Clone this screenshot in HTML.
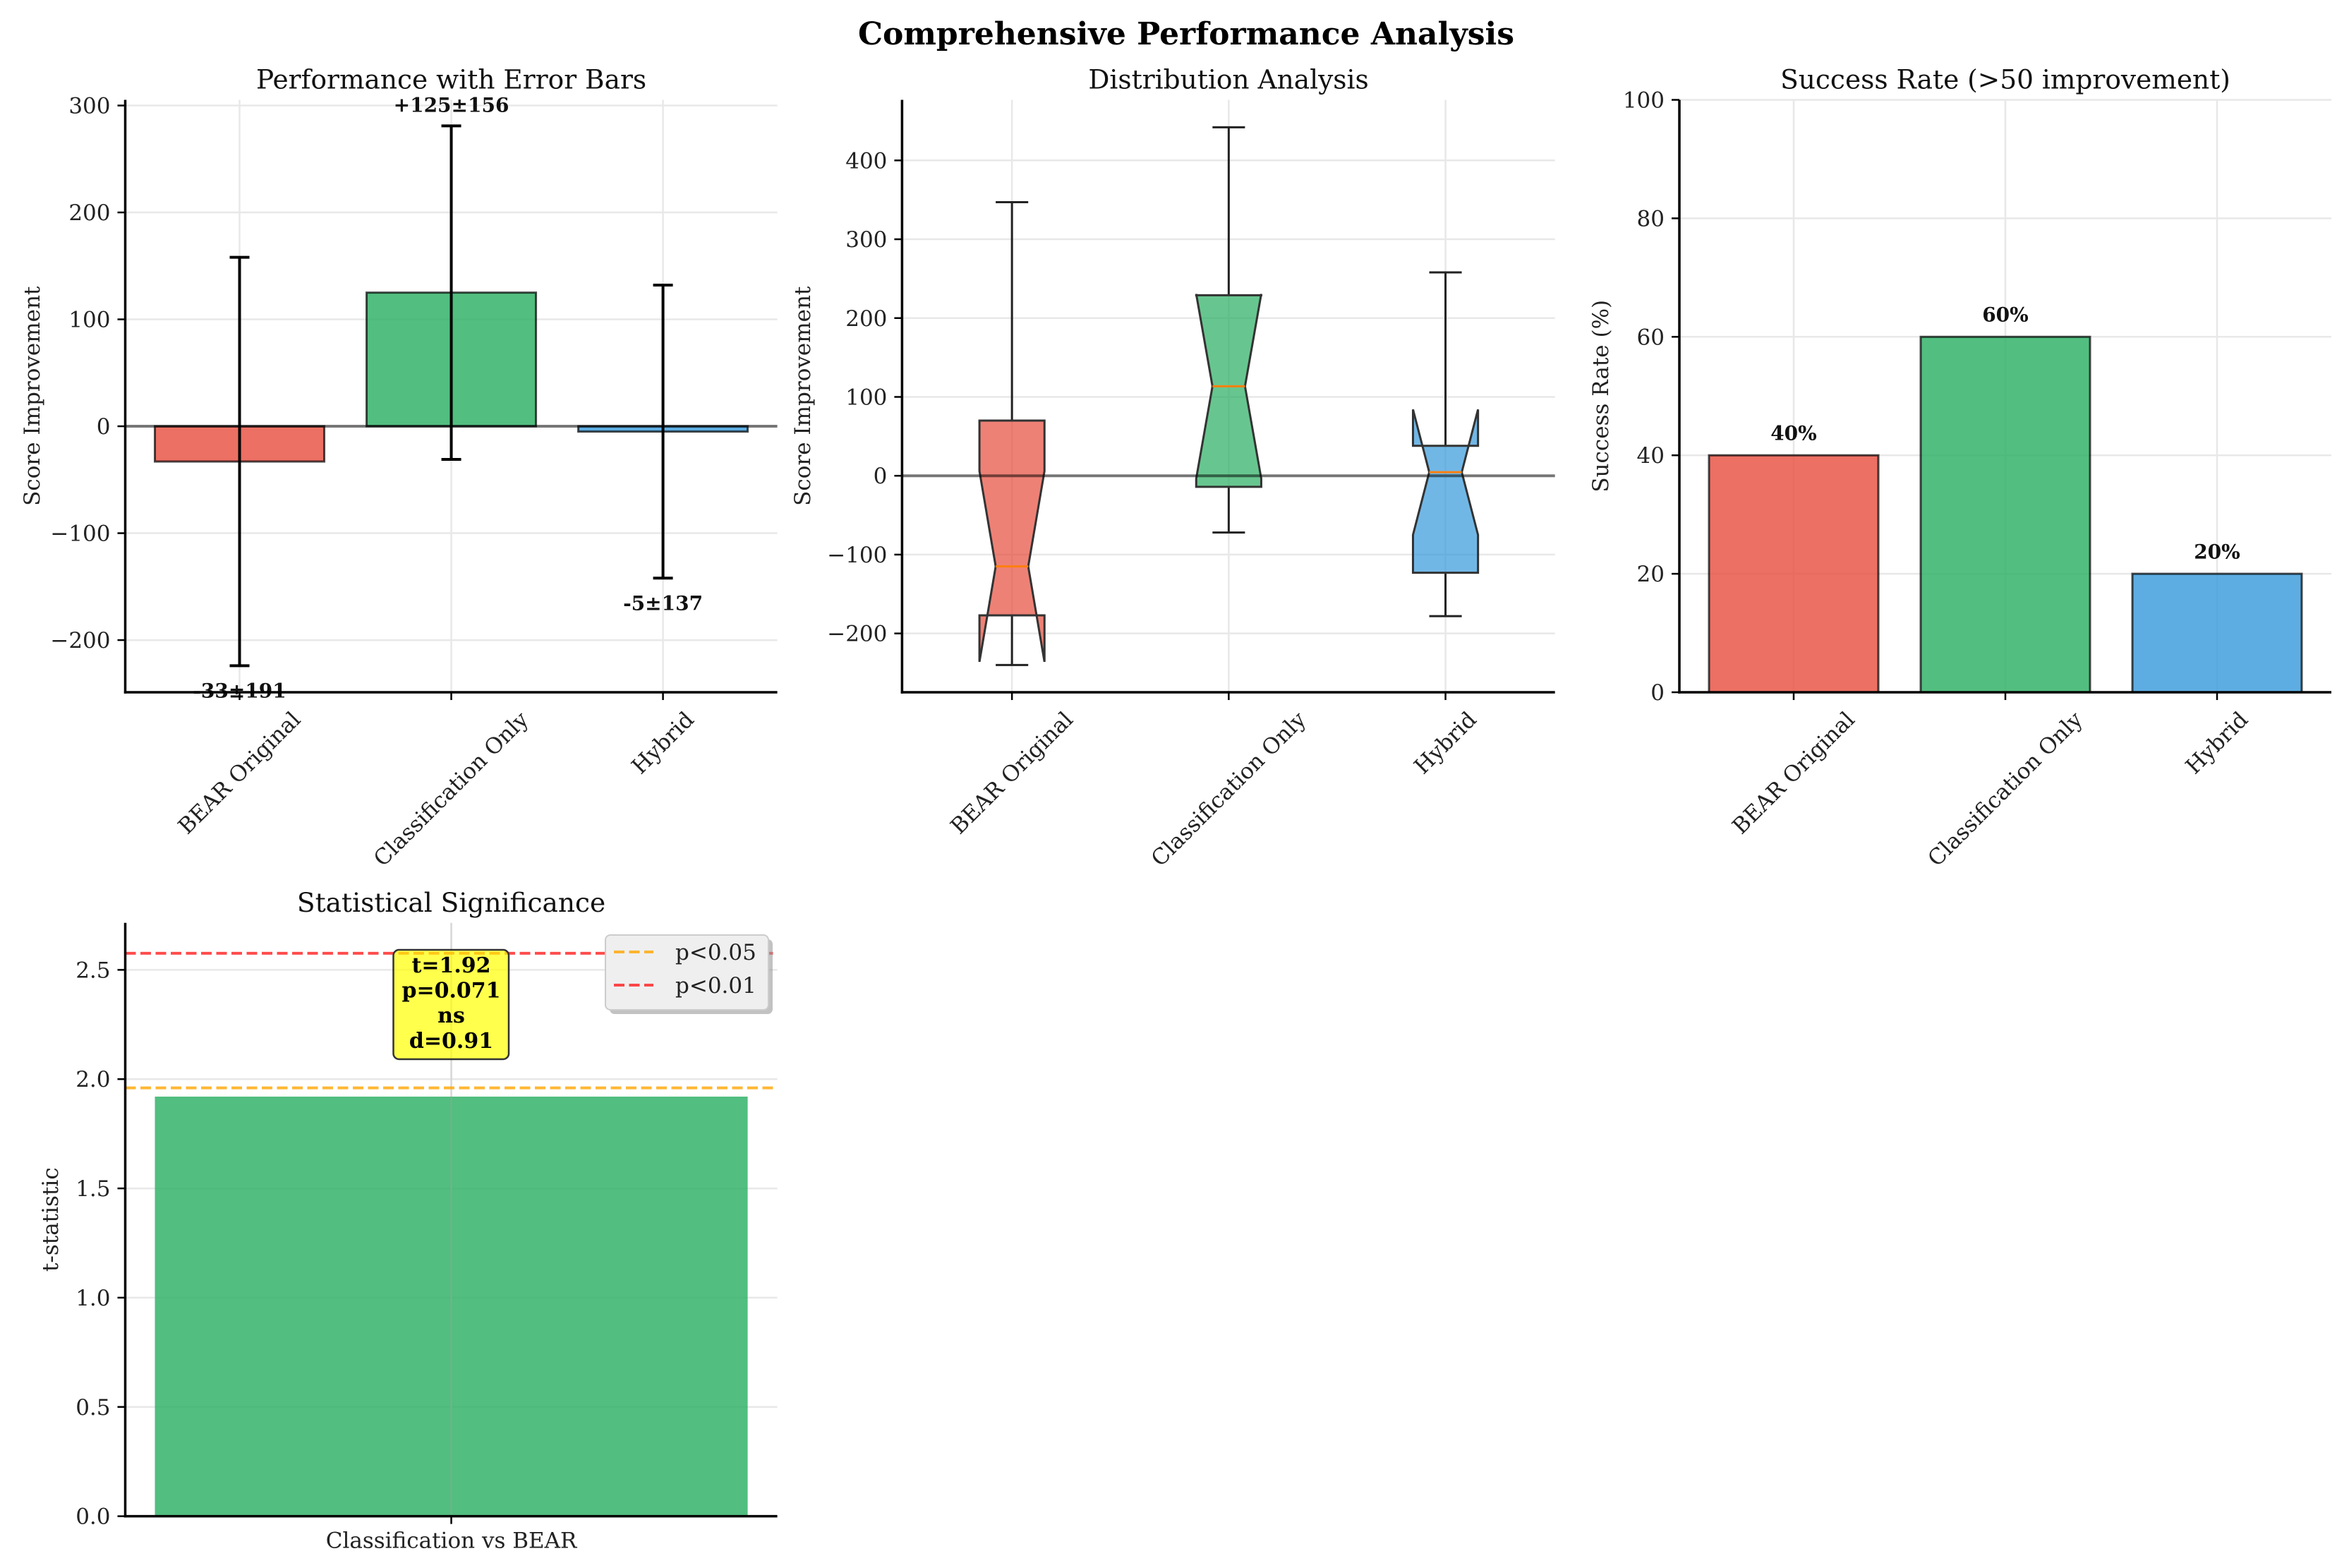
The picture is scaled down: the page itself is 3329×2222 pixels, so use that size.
<!DOCTYPE html>
<html><head><meta charset="utf-8">
<style>
html,body{margin:0;padding:0;background:#fff;}
svg{display:block;font-family:"DejaVu Serif","Liberation Serif",serif;}
</style></head>
<body>
<svg id="fig" width="3329" height="2222" viewBox="0 0 3329 2222" xmlns="http://www.w3.org/2000/svg">
<rect x="0" y="0" width="3329" height="2222" fill="#ffffff"/>
<text x="1681" y="63" text-anchor="middle" font-size="44" font-weight="bold" fill="#000">Comprehensive Performance Analysis</text>
</svg>
<script>
const categories = ['BEAR Original','Classification Only','Hybrid'];
const means = [-33, 125, -5];
const stds = [191, 156, 137];
const meanLabels = ['-33±191', '+125±156', '-5±137'];
const boxQ1 = [-177, -14, -123];
const boxQ3 = [70, 229, 38];
const boxMed = [-115, 113.5, 4.6];
const whiskLo = [-240, -72, -178];
const whiskHi = [347, 442, 258];
const notchHalf = [121, 117, 79.5];
const successRates = [40, 60, 20];
const successLabels = ['40%', '60%', '20%'];
const tCategories = ['Classification vs BEAR'];
const tValues = [1.92];
const p05 = 1.96;
const p01 = 2.576;
const ticks1 = [-200, -100, 0, 100, 200, 300];
const ticks2 = [-200, -100, 0, 100, 200, 300, 400];
const ticks3 = [0, 20, 40, 60, 80, 100];
const ticks4 = [0, 0.5, 1.0, 1.5, 2.0, 2.5];
const annotLines = ['t=1.92', 'p=0.071', 'ns', 'd=0.91'];

const NS = 'http://www.w3.org/2000/svg';
const fig = document.getElementById('fig');
const colors = ['#e74c3c', '#27ae60', '#3498db'];

function mk(tag, attrs, parent) {
  const e = document.createElementNS(NS, tag);
  for (const k in attrs) e.setAttribute(k, attrs[k]);
  (parent || fig).appendChild(e);
  return e;
}
function fmtTick(v, dec) {
  let s = dec ? v.toFixed(dec) : String(v);
  return s.replace('-', '\u2212');
}
function makeAxes(cfg) {
  const ax = {
    cfg: cfg,
    sx: v => cfg.x0 + (v - cfg.xmin) / (cfg.xmax - cfg.xmin) * (cfg.x1 - cfg.x0),
    sy: v => cfg.y1 - (v - cfg.ymin) / (cfg.ymax - cfg.ymin) * (cfg.y1 - cfg.y0)
  };
  const g = mk('g', {});
  
  
  ax.g = g;
  // grid
  cfg.yticks.forEach(t => {
    const l = mk('line', {x1: cfg.x0, x2: cfg.x1, y1: ax.sy(t), y2: ax.sy(t), stroke: '#e8e8e8', 'stroke-width': 2.5}, g);
    
    
  });
  cfg.xticks.forEach(t => {
    const l = mk('line', {x1: ax.sx(t), x2: ax.sx(t), y1: cfg.y0, y2: cfg.y1, stroke: '#e8e8e8', 'stroke-width': 2.5}, g);
    
    
  });
  return ax;
}
function finishAxes(ax) {
  const cfg = ax.cfg, g = ax.g;
  const sp1 = mk('line', {x1: cfg.x0, x2: cfg.x0, y1: cfg.y0, y2: cfg.y1 + 1.7, stroke: '#000', 'stroke-width': 3.5}, g);
  
  
  const sp2 = mk('line', {x1: cfg.x0 - 1.7, x2: cfg.x1, y1: cfg.y1, y2: cfg.y1, stroke: '#000', 'stroke-width': 3.5}, g);
  
  
  cfg.yticks.forEach(t => {
    const y = ax.sy(t);
    const tk = mk('line', {x1: cfg.x0 - 11, x2: cfg.x0, y1: y, y2: y, stroke: '#000', 'stroke-width': 2.5}, g);
    
    
    const tx = mk('text', {x: cfg.x0 - 21, y: y + 11, 'text-anchor': 'end', 'font-size': 31, fill: '#222'}, g);
    tx.textContent = fmtTick(t, cfg.ydec);
    
    
  });
  cfg.xticks.forEach((t, i) => {
    const x = ax.sx(t);
    const tk = mk('line', {x1: x, x2: x, y1: cfg.y1, y2: cfg.y1 + 11, stroke: '#000', 'stroke-width': 2.5}, g);
    
    
    const tx = mk('text', {'font-size': 31, fill: '#222'}, g);
    tx.textContent = cfg.xlabels[i];
    
    
    if (cfg.rotate) {
      const w = tx.getComputedTextLength();
      const h = 31 * 1.05;
      const cy = cfg.y1 + 22 + (w + h) * 0.7071 / 2;
      tx.setAttribute('x', x);
      tx.setAttribute('y', cy + 10);
      tx.setAttribute('text-anchor', 'middle');
      tx.setAttribute('transform', 'rotate(-45 ' + x + ' ' + cy + ')');
    } else {
      tx.setAttribute('x', x);
      tx.setAttribute('y', cfg.y1 + 45);
      tx.setAttribute('text-anchor', 'middle');
    }
  });
  const cx = (cfg.x0 + cfg.x1) / 2, cy = (cfg.y0 + cfg.y1) / 2;
  const yl = mk('text', {x: cfg.ylabelX, y: cy, 'text-anchor': 'middle', 'font-size': 31, fill: '#222', transform: 'rotate(-90 ' + cfg.ylabelX + ' ' + cy + ')'}, g);
  yl.textContent = cfg.ylabel;
  
  
  const tt = mk('text', {x: cx, y: cfg.y0 - 16, 'text-anchor': 'middle', 'font-size': 37.5, fill: '#111'}, g);
  tt.textContent = cfg.title;
  
  
}

// ---------- Panel 1: bars with error bars ----------
const ax1 = makeAxes({name: 'performance-panel', x0: 177.5, x1: 1101.6, y0: 141.5, y1: 981, xmin: -0.54, xmax: 2.54, ymin: -248.8, ymax: 305.3,
  yticks: ticks1, xticks: [0, 1, 2], xlabels: categories, rotate: true, ylabel: 'Score Improvement', ylabelX: 56, title: 'Performance with Error Bars'});
means.forEach((m, i) => {
  const xa = ax1.sx(i - 0.4), xb = ax1.sx(i + 0.4);
  const ya = ax1.sy(Math.max(m, 0)), yb = ax1.sy(Math.min(m, 0));
  const r = mk('rect', {x: xa, y: ya, width: xb - xa, height: Math.max(yb - ya, 0.5), fill: colors[i], 'fill-opacity': 0.8, stroke: 'rgba(0,0,0,0.7)', 'stroke-width': 3}, ax1.g);
  
  
});
const z1 = mk('line', {x1: ax1.cfg.x0, x2: ax1.cfg.x1, y1: ax1.sy(0), y2: ax1.sy(0), stroke: 'rgba(0,0,0,0.5)', 'stroke-width': 4}, ax1.g);


means.forEach((m, i) => {
  const x = ax1.sx(i), yt = ax1.sy(m + stds[i]), yb = ax1.sy(m - stds[i]);
  const e = mk('path', {d: `M${x},${yt}V${yb}M${x - 14},${yt}H${x + 14}M${x - 14},${yb}H${x + 14}`, stroke: '#000', 'stroke-width': 4, fill: 'none'}, ax1.g);
  
  
  const lbl = mk('text', {x: x, 'text-anchor': 'middle', 'font-size': 28, 'font-weight': 'bold', fill: '#111'}, ax1.g);
  if (m >= 0) lbl.setAttribute('y', ax1.sy(m + stds[i] + 13));
  else lbl.setAttribute('y', ax1.sy(m - stds[i] - 16) + 21);
  lbl.textContent = meanLabels[i];
  
  
});
finishAxes(ax1);

// ---------- Panel 2: notched box plot ----------
const ax2 = makeAxes({name: 'distribution-panel', x0: 1278.4, x1: 2203.7, y0: 141.5, y1: 981, xmin: 0.493, xmax: 3.505, ymin: -274.6, ymax: 476.8,
  yticks: ticks2, xticks: [1, 2, 3], xlabels: categories, rotate: true, ylabel: 'Score Improvement', ylabelX: 1148, title: 'Distribution Analysis'});
categories.forEach((c, i) => {
  const p = i + 1, w = 0.3;
  const L = ax2.sx(p - w / 2), R = ax2.sx(p + w / 2), cl = ax2.sx(p - w / 4), cr = ax2.sx(p + w / 4);
  const nLo = boxMed[i] - notchHalf[i], nHi = boxMed[i] + notchHalf[i];
  const ys = v => ax2.sy(v);
  const d = `M${L},${ys(boxQ1[i])}L${R},${ys(boxQ1[i])}L${R},${ys(nLo)}L${cr},${ys(boxMed[i])}L${R},${ys(nHi)}L${R},${ys(boxQ3[i])}L${L},${ys(boxQ3[i])}L${L},${ys(nHi)}L${cl},${ys(boxMed[i])}L${L},${ys(nLo)}Z`;
  const wk = mk('path', {d: `M${ax2.sx(p)},${ys(boxQ1[i])}V${ys(whiskLo[i])}M${cl},${ys(whiskLo[i])}H${cr}M${ax2.sx(p)},${ys(boxQ3[i])}V${ys(whiskHi[i])}M${cl},${ys(whiskHi[i])}H${cr}`, stroke: '#222', 'stroke-width': 3, fill: 'none'}, ax2.g);
  
  
  const b = mk('path', {d: d, fill: colors[i], 'fill-opacity': 0.7, stroke: '#333', 'stroke-width': 3, 'stroke-linejoin': 'miter'}, ax2.g);
  
  
  const md = mk('line', {x1: cl, x2: cr, y1: ys(boxMed[i]), y2: ys(boxMed[i]), stroke: '#ff7f0e', 'stroke-width': 3}, ax2.g);
  
  
});
const z2 = mk('line', {x1: ax2.cfg.x0, x2: ax2.cfg.x1, y1: ax2.sy(0), y2: ax2.sy(0), stroke: 'rgba(0,0,0,0.5)', 'stroke-width': 4}, ax2.g);


finishAxes(ax2);

// ---------- Panel 3: success rate ----------
const ax3 = makeAxes({name: 'success-rate-panel', x0: 2380, x1: 3304, y0: 141.5, y1: 981, xmin: -0.54, xmax: 2.54, ymin: 0, ymax: 100,
  yticks: ticks3, xticks: [0, 1, 2], xlabels: categories, rotate: true, ylabel: 'Success Rate (%)', ylabelX: 2279, title: 'Success Rate (>50 improvement)'});
successRates.forEach((v, i) => {
  const xa = ax3.sx(i - 0.4), xb = ax3.sx(i + 0.4);
  const r = mk('rect', {x: xa, y: ax3.sy(v), width: xb - xa, height: ax3.sy(0) - ax3.sy(v), fill: colors[i], 'fill-opacity': 0.8, stroke: 'rgba(0,0,0,0.7)', 'stroke-width': 3}, ax3.g);
  
  
  const t = mk('text', {x: ax3.sx(i), y: ax3.sy(v + 2.6), 'text-anchor': 'middle', 'font-size': 28, 'font-weight': 'bold', fill: '#111'}, ax3.g);
  t.textContent = successLabels[i];
  
  
});
finishAxes(ax3);

// ---------- Panel 4: t-statistic ----------
const ax4 = makeAxes({name: 'significance-panel', x0: 177.5, x1: 1101.6, y0: 1307.8, y1: 2148.6, xmin: -0.44, xmax: 0.44, ymin: 0, ymax: 2.715, ydec: 1,
  yticks: ticks4, xticks: [0], xlabels: tCategories, rotate: false, ylabel: 't-statistic', ylabelX: 82, title: 'Statistical Significance'});
tValues.forEach((v, i) => {
  const xa = ax4.sx(i - 0.4), xb = ax4.sx(i + 0.4);
  const r = mk('rect', {x: xa, y: ax4.sy(v), width: xb - xa, height: ax4.sy(0) - ax4.sy(v), fill: colors[1], 'fill-opacity': 0.8}, ax4.g);
  
  
});
// re-draw vertical grid over bar faintly
const vg = mk('line', {x1: ax4.sx(0), x2: ax4.sx(0), y1: ax4.cfg.y0, y2: ax4.cfg.y1, stroke: 'rgba(176,176,176,0.3)', 'stroke-width': 2.5}, ax4.g);


const l05 = mk('line', {x1: ax4.cfg.x0, x2: ax4.cfg.x1, y1: ax4.sy(p05), y2: ax4.sy(p05), stroke: '#ffa500', 'stroke-opacity': 0.8, 'stroke-width': 4, 'stroke-dasharray': '15,6.5'}, ax4.g);


const l01 = mk('line', {x1: ax4.cfg.x0, x2: ax4.cfg.x1, y1: ax4.sy(p01), y2: ax4.sy(p01), stroke: '#ff0000', 'stroke-opacity': 0.7, 'stroke-width': 4, 'stroke-dasharray': '15,6.5'}, ax4.g);


// annotation box
const ab = mk('rect', {x: 557.5, y: 1346, width: 163.5, height: 155, rx: 8, fill: '#ffff00', 'fill-opacity': 0.7, stroke: '#333', 'stroke-width': 2.5}, ax4.g);


annotLines.forEach((s, i) => {
  const t = mk('text', {x: 639.5, y: 1378 + i * 35.6, 'text-anchor': 'middle', 'font-size': 30, 'font-weight': 'bold', fill: '#000'}, ax4.g);
  t.textContent = s;
  
  
});
// legend
const lgs = mk('rect', {x: 864, y: 1331, width: 231, height: 106, rx: 7, fill: '#999', 'fill-opacity': 0.6}, ax4.g);


const lg = mk('rect', {x: 858, y: 1325, width: 231, height: 106, rx: 7, fill: '#efefef', stroke: '#cccccc', 'stroke-width': 2}, ax4.g);


[['p<0.05', '#ffa500', 0.8, 1349], ['p<0.01', '#ff0000', 0.7, 1396]].forEach(e => {
  const ln = mk('line', {x1: 870, x2: 926, y1: e[3], y2: e[3], stroke: e[1], 'stroke-opacity': e[2], 'stroke-width': 4, 'stroke-dasharray': '15,6.5'}, ax4.g);
  
  
  const tx = mk('text', {x: 957, y: e[3] + 11, 'font-size': 31, fill: '#222'}, ax4.g);
  tx.textContent = e[0];
  
  
});
finishAxes(ax4);
</script>
</body></html>
